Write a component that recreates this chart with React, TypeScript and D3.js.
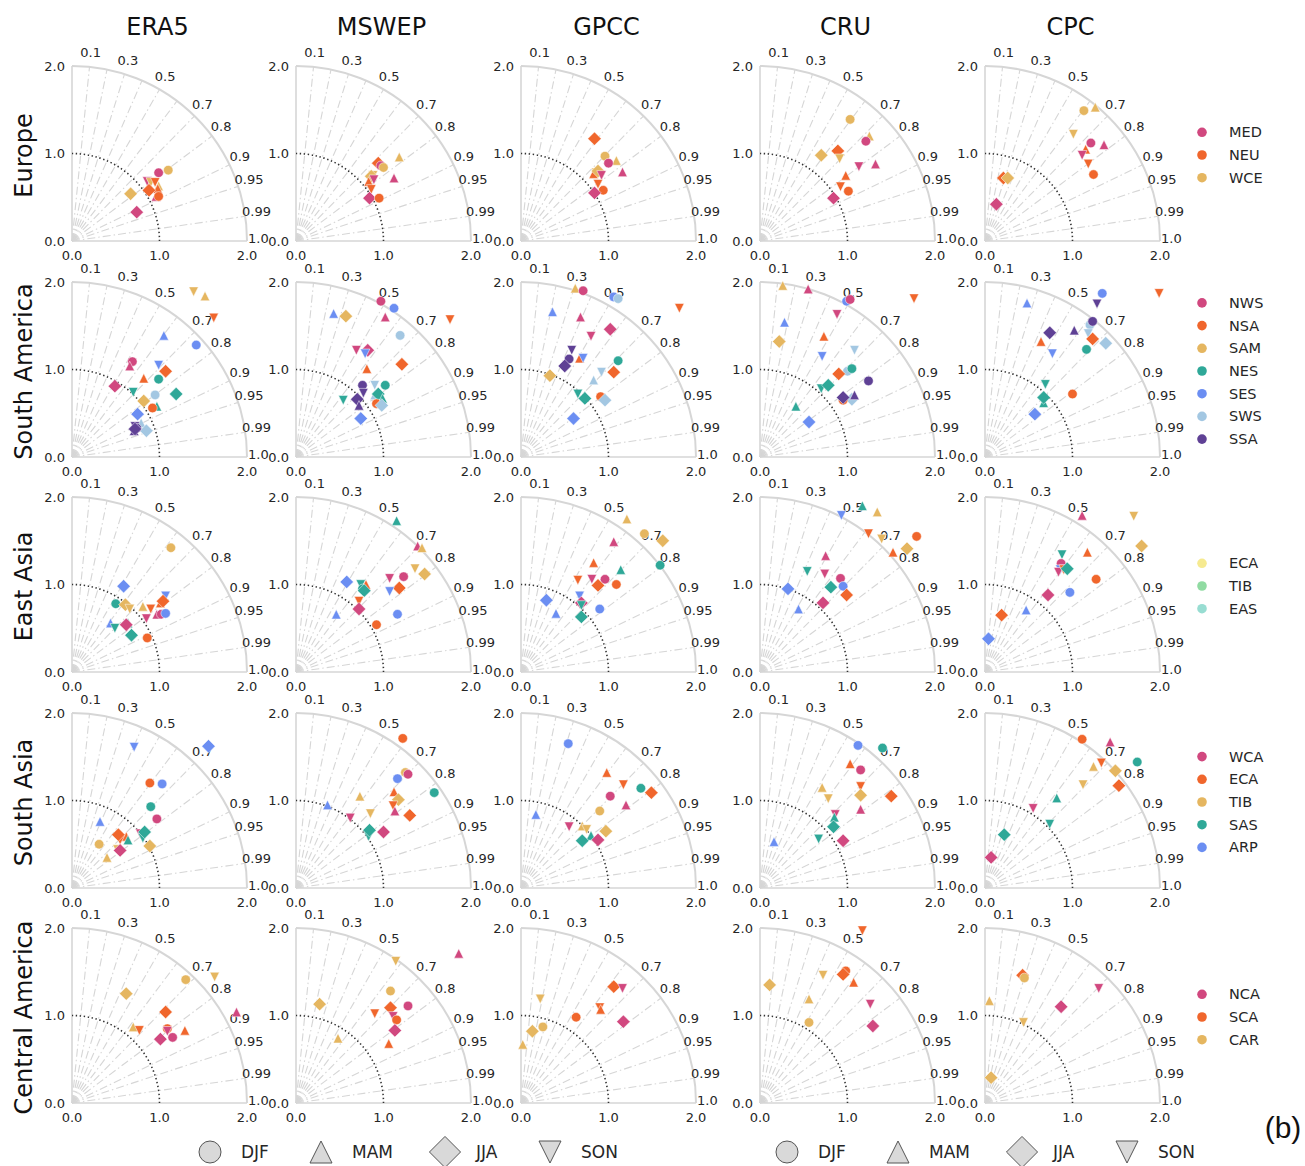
import React from "react";
import * as d3 from "d3";

// Each point: [colour index, season, x component (σ·r), y component (σ·√(1−r²))]
type Pt = [number, string, number, number];

const datasets = ["ERA5", "MSWEP", "GPCC", "CRU", "CPC"];
const domains = ["Europe", "South America", "East Asia", "South Asia", "Central America"];
const seasons = ["DJF", "MAM", "JJA", "SON"];
const corrLabels = [0.1, 0.3, 0.5, 0.7, 0.8, 0.9, 0.95, 0.99, 1.0];
const corrLines = [0.1, 0.2, 0.3, 0.4, 0.5, 0.6, 0.7, 0.8, 0.9, 0.95, 0.99];
const stdTicks = [0, 1, 2];

const markerColors = ["#d1487f", "#f0662c", "#e5b660", "#2fa898", "#6b8ef2", "#a3c7e2", "#5f4195"];

const europeLegend = ["MED", "NEU", "WCE"];
const southAmericaLegend = ["NWS", "NSA", "SAM", "NES", "SES", "SWS", "SSA"];
const eastAsiaLegend = ["ECA", "TIB", "EAS"];
const eastAsiaLegendColors = ["#f6ea90", "#90dba2", "#98ddd2"];
const southAsiaLegend = ["WCA", "ECA", "TIB", "SAS", "ARP"];
const centralAmericaLegend = ["NCA", "SCA", "CAR"];

const europePoints: Pt[][] = [
  [[0,"DJF",0.99,0.78],[2,"DJF",1.10,0.81],[0,"SON",0.86,0.68],[2,"SON",0.90,0.67],[1,"SON",0.95,0.67],[2,"MAM",0.99,0.63],[1,"MAM",0.98,0.60],[1,"JJA",0.88,0.58],[0,"MAM",0.96,0.51],[1,"DJF",0.99,0.51],[2,"JJA",0.67,0.54],[0,"JJA",0.74,0.33]],
  [[1,"JJA",0.94,0.89],[0,"DJF",0.97,0.86],[2,"DJF",1.00,0.84],[2,"MAM",1.18,0.96],[2,"SON",0.88,0.75],[2,"JJA",0.86,0.74],[0,"SON",0.89,0.70],[1,"MAM",0.83,0.68],[0,"MAM",1.12,0.72],[1,"SON",0.86,0.59],[0,"JJA",0.84,0.49],[1,"DJF",0.95,0.49]],
  [[1,"JJA",0.84,1.17],[2,"DJF",0.96,0.97],[2,"MAM",1.09,0.92],[0,"DJF",1.00,0.89],[2,"SON",0.86,0.78],[1,"MAM",0.83,0.77],[2,"JJA",0.88,0.80],[0,"SON",0.92,0.75],[0,"MAM",1.16,0.79],[1,"SON",0.88,0.65],[1,"DJF",0.94,0.58],[0,"JJA",0.84,0.55]],
  [[2,"DJF",1.03,1.39],[2,"MAM",1.25,1.20],[0,"DJF",1.21,1.14],[2,"JJA",0.70,0.98],[1,"JJA",0.89,1.03],[2,"SON",0.91,0.94],[0,"SON",1.13,0.85],[0,"MAM",1.32,0.88],[1,"MAM",0.98,0.75],[1,"SON",0.92,0.62],[1,"DJF",1.01,0.57],[0,"JJA",0.84,0.49]],
  [[2,"DJF",1.13,1.49],[2,"MAM",1.26,1.53],[2,"SON",1.01,1.22],[0,"DJF",1.21,1.12],[0,"MAM",1.36,1.10],[1,"MAM",1.15,1.05],[0,"SON",1.11,0.98],[1,"SON",1.18,0.88],[1,"DJF",1.24,0.76],[1,"JJA",0.21,0.72],[2,"JJA",0.26,0.72],[0,"JJA",0.13,0.42]],
];

const southAmericaPoints: Pt[][] = [
  [[2,"SON",1.39,1.89],[2,"MAM",1.52,1.84],[1,"SON",1.62,1.59],[4,"MAM",1.05,1.39],[4,"DJF",1.42,1.28],[0,"DJF",0.69,1.09],[0,"MAM",0.66,1.04],[4,"SON",0.99,1.05],[1,"JJA",1.07,0.98],[1,"MAM",0.82,0.90],[3,"DJF",0.99,0.89],[0,"JJA",0.49,0.81],[3,"JJA",1.19,0.72],[3,"SON",0.70,0.74],[5,"DJF",0.95,0.71],[2,"JJA",0.82,0.64],[3,"MAM",0.97,0.58],[1,"DJF",0.92,0.56],[4,"JJA",0.75,0.49],[5,"MAM",0.79,0.39],[5,"JJA",0.85,0.30],[6,"SON",0.72,0.35],[6,"DJF",0.74,0.33],[6,"MAM",0.71,0.30],[6,"JJA",0.72,0.32]],
  [[0,"DJF",0.97,1.78],[4,"DJF",1.12,1.70],[4,"MAM",0.43,1.64],[2,"JJA",0.57,1.61],[0,"MAM",1.02,1.60],[1,"SON",1.76,1.57],[5,"DJF",1.19,1.39],[0,"SON",0.69,1.22],[0,"JJA",0.82,1.22],[4,"SON",0.79,1.18],[1,"MAM",0.81,1.01],[1,"JJA",1.21,1.06],[6,"DJF",0.76,0.82],[5,"SON",0.90,0.82],[3,"DJF",1.02,0.82],[6,"SON",0.77,0.73],[5,"MAM",0.90,0.71],[3,"JJA",0.94,0.72],[3,"MAM",0.99,0.67],[3,"SON",0.54,0.65],[6,"JJA",0.70,0.66],[6,"MAM",0.72,0.59],[1,"DJF",0.92,0.61],[5,"JJA",0.98,0.59],[4,"JJA",0.74,0.44]],
  [[2,"MAM",0.62,1.93],[0,"DJF",0.71,1.90],[4,"DJF",1.06,1.83],[5,"DJF",1.11,1.81],[4,"MAM",0.36,1.66],[0,"MAM",0.68,1.60],[1,"SON",1.81,1.70],[0,"JJA",1.02,1.46],[0,"SON",0.80,1.38],[6,"SON",0.58,1.22],[1,"MAM",0.67,1.13],[4,"SON",0.71,1.13],[6,"DJF",0.55,1.12],[6,"JJA",0.50,1.04],[3,"DJF",1.11,1.10],[2,"JJA",0.33,0.93],[5,"SON",0.92,0.97],[1,"JJA",1.06,0.97],[5,"MAM",0.83,0.88],[3,"SON",0.65,0.72],[3,"MAM",0.73,0.70],[3,"JJA",0.73,0.67],[1,"DJF",0.91,0.69],[5,"JJA",0.96,0.65],[4,"JJA",0.60,0.44]],
  [[2,"MAM",0.26,1.96],[0,"MAM",0.55,1.92],[4,"DJF",0.99,1.78],[0,"DJF",1.03,1.80],[1,"SON",1.76,1.81],[4,"MAM",0.28,1.54],[0,"SON",0.88,1.63],[2,"JJA",0.22,1.32],[1,"MAM",0.73,1.38],[5,"SON",1.08,1.22],[4,"SON",0.71,1.15],[5,"DJF",1.00,0.98],[3,"DJF",1.05,1.01],[1,"JJA",0.90,0.95],[6,"DJF",1.24,0.87],[3,"SON",0.70,0.78],[3,"JJA",0.78,0.82],[5,"JJA",1.05,0.66],[1,"DJF",0.95,0.65],[6,"JJA",0.95,0.68],[6,"MAM",1.08,0.71],[3,"MAM",0.41,0.58],[4,"JJA",0.56,0.40]],
  [[4,"MAM",0.48,1.76],[4,"DJF",1.34,1.87],[1,"SON",1.99,1.87],[6,"SON",1.28,1.75],[5,"DJF",1.20,1.51],[6,"DJF",1.23,1.55],[6,"JJA",0.74,1.42],[6,"MAM",1.02,1.45],[5,"SON",1.18,1.41],[1,"MAM",0.64,1.32],[1,"JJA",1.23,1.35],[5,"JJA",1.38,1.30],[4,"SON",0.77,1.18],[3,"DJF",1.16,1.23],[3,"SON",0.69,0.83],[1,"DJF",1.00,0.72],[3,"MAM",0.67,0.62],[3,"JJA",0.67,0.68],[4,"JJA",0.57,0.49]],
];

const eastAsiaPoints: Pt[][] = [
  [[2,"DJF",1.13,1.42],[4,"JJA",0.59,0.98],[4,"SON",1.07,0.87],[1,"MAM",1.01,0.79],[1,"JJA",1.04,0.81],[3,"DJF",0.50,0.78],[2,"JJA",0.61,0.77],[2,"SON",0.66,0.72],[2,"MAM",0.81,0.75],[1,"SON",0.90,0.72],[0,"MAM",0.97,0.66],[0,"DJF",1.02,0.66],[4,"DJF",1.07,0.67],[0,"SON",0.85,0.61],[4,"MAM",0.44,0.56],[3,"SON",0.49,0.50],[3,"MAM",0.64,0.56],[0,"JJA",0.62,0.54],[3,"JJA",0.68,0.42],[1,"DJF",0.86,0.39]],
  [[3,"MAM",1.15,1.73],[0,"MAM",1.39,1.44],[2,"MAM",1.44,1.42],[2,"SON",1.36,1.18],[2,"JJA",1.47,1.12],[0,"DJF",1.23,1.09],[0,"SON",1.07,1.07],[1,"JJA",1.18,0.96],[4,"SON",1.07,0.92],[4,"JJA",0.58,1.03],[3,"SON",0.74,1.00],[1,"MAM",0.80,1.00],[3,"DJF",0.76,0.95],[3,"JJA",0.78,0.93],[1,"SON",0.72,0.81],[0,"JJA",0.72,0.72],[4,"MAM",0.46,0.66],[4,"DJF",1.16,0.66],[1,"DJF",0.92,0.54]],
  [[2,"MAM",1.21,1.75],[2,"DJF",1.41,1.58],[2,"JJA",1.62,1.50],[0,"MAM",1.06,1.49],[3,"DJF",1.59,1.22],[1,"MAM",0.83,1.25],[3,"MAM",1.14,1.17],[1,"SON",0.65,1.05],[0,"SON",0.81,1.06],[0,"DJF",0.96,1.06],[1,"JJA",0.88,0.99],[1,"DJF",1.09,1.00],[4,"JJA",0.29,0.82],[4,"SON",0.67,0.87],[0,"JJA",0.69,0.79],[3,"SON",0.69,0.76],[4,"DJF",0.90,0.72],[4,"MAM",0.40,0.67],[3,"JJA",0.69,0.63]],
  [[3,"MAM",1.17,1.90],[2,"MAM",1.34,1.83],[4,"SON",0.93,1.79],[1,"SON",1.24,1.58],[1,"DJF",1.79,1.55],[2,"SON",1.39,1.52],[2,"JJA",1.68,1.41],[1,"MAM",1.52,1.37],[0,"MAM",0.75,1.33],[3,"SON",0.54,1.15],[0,"SON",0.74,1.12],[0,"DJF",0.92,1.07],[4,"DJF",0.95,0.98],[3,"JJA",0.81,0.97],[1,"JJA",0.99,0.88],[4,"JJA",0.32,0.95],[0,"JJA",0.72,0.79],[4,"MAM",0.44,0.72]],
  [[0,"MAM",1.11,1.79],[2,"SON",1.70,1.78],[2,"JJA",1.79,1.44],[1,"MAM",1.17,1.37],[3,"SON",0.88,1.34],[0,"DJF",0.87,1.24],[4,"SON",0.86,1.17],[0,"SON",0.84,1.14],[1,"SON",0.90,1.17],[3,"JJA",0.94,1.18],[1,"DJF",1.27,1.06],[0,"JJA",0.72,0.88],[4,"DJF",0.97,0.91],[4,"MAM",0.47,0.71],[1,"JJA",0.19,0.65],[4,"JJA",0.04,0.38]],
];

const southAsiaPoints: Pt[][] = [
  [[4,"SON",0.71,1.61],[4,"JJA",1.56,1.62],[1,"DJF",0.89,1.20],[4,"DJF",1.03,1.19],[3,"DJF",0.90,0.93],[0,"DJF",0.97,0.79],[4,"MAM",0.32,0.76],[0,"SON",0.78,0.62],[3,"SON",0.81,0.57],[3,"JJA",0.83,0.64],[1,"MAM",0.62,0.59],[1,"SON",0.55,0.55],[1,"JJA",0.53,0.61],[3,"MAM",0.64,0.55],[2,"DJF",0.31,0.50],[2,"SON",0.52,0.44],[0,"JJA",0.55,0.43],[2,"JJA",0.89,0.48],[2,"MAM",0.40,0.35]],
  [[1,"DJF",1.22,1.71],[2,"DJF",1.25,1.32],[0,"DJF",1.28,1.30],[4,"DJF",1.16,1.25],[3,"DJF",1.58,1.09],[1,"MAM",1.12,1.10],[2,"JJA",1.17,1.01],[2,"MAM",0.73,1.05],[4,"MAM",0.36,0.95],[1,"SON",1.11,0.94],[0,"MAM",1.13,0.88],[2,"SON",0.85,0.85],[1,"JJA",1.30,0.83],[0,"SON",0.62,0.80],[3,"SON",0.83,0.59],[3,"JJA",0.84,0.66],[0,"JJA",1.00,0.64]],
  [[4,"DJF",0.54,1.65],[1,"MAM",0.98,1.32],[1,"SON",1.17,1.18],[3,"DJF",1.37,1.14],[1,"JJA",1.49,1.09],[0,"DJF",1.02,1.05],[0,"MAM",1.20,0.95],[4,"MAM",0.17,0.84],[2,"DJF",0.90,0.88],[0,"SON",0.55,0.70],[2,"MAM",0.70,0.71],[2,"SON",0.75,0.67],[2,"JJA",0.97,0.65],[3,"MAM",0.80,0.60],[3,"JJA",0.70,0.54],[0,"JJA",0.88,0.55]],
  [[4,"DJF",1.12,1.63],[3,"DJF",1.40,1.60],[1,"MAM",1.03,1.42],[0,"DJF",1.15,1.35],[1,"SON",1.15,1.16],[2,"MAM",0.71,1.15],[2,"SON",0.78,1.02],[2,"JJA",1.15,1.06],[1,"JJA",1.50,1.05],[0,"MAM",1.15,0.90],[0,"SON",0.86,0.84],[3,"MAM",0.85,0.81],[3,"JJA",0.84,0.70],[3,"SON",0.67,0.56],[0,"JJA",0.95,0.54],[4,"MAM",0.16,0.53]],
  [[1,"DJF",1.11,1.70],[0,"MAM",1.43,1.67],[3,"DJF",1.74,1.44],[1,"SON",1.33,1.43],[2,"MAM",1.24,1.39],[2,"JJA",1.49,1.34],[2,"SON",1.12,1.18],[1,"JJA",1.53,1.17],[3,"MAM",0.82,1.03],[0,"SON",0.55,0.91],[3,"SON",0.74,0.73],[3,"JJA",0.22,0.61],[0,"JJA",0.07,0.35]],
];

const centralAmericaPoints: Pt[][] = [
  [[2,"SON",1.63,1.44],[2,"DJF",1.30,1.41],[2,"JJA",0.62,1.25],[0,"MAM",1.88,1.04],[1,"JJA",1.07,1.04],[2,"MAM",0.70,0.87],[1,"SON",0.77,0.83],[1,"DJF",1.09,0.85],[0,"SON",1.09,0.82],[1,"MAM",1.29,0.83],[0,"JJA",1.01,0.73],[0,"DJF",1.15,0.75]],
  [[0,"MAM",1.86,1.71],[2,"SON",1.14,1.62],[2,"DJF",1.08,1.28],[2,"JJA",0.27,1.13],[1,"JJA",1.08,1.09],[0,"DJF",1.28,1.11],[1,"SON",0.90,1.02],[0,"SON",1.11,0.99],[1,"DJF",1.15,0.95],[0,"JJA",1.13,0.83],[2,"MAM",0.48,0.74],[1,"MAM",1.06,0.68]],
  [[1,"JJA",1.06,1.33],[0,"SON",1.16,1.31],[2,"SON",0.22,1.19],[1,"SON",0.90,1.09],[1,"MAM",0.91,1.07],[1,"DJF",0.63,0.98],[0,"JJA",1.17,0.93],[2,"DJF",0.25,0.87],[2,"JJA",0.13,0.82],[2,"MAM",0.02,0.67]],
  [[1,"SON",1.17,1.97],[1,"DJF",0.98,1.51],[1,"JJA",0.95,1.47],[1,"MAM",1.07,1.38],[2,"SON",0.72,1.46],[2,"JJA",0.11,1.35],[2,"MAM",0.56,1.19],[0,"SON",1.26,1.13],[2,"DJF",0.56,0.92],[0,"JJA",1.29,0.88]],
  [[1,"JJA",0.43,1.46],[2,"DJF",0.45,1.43],[0,"SON",1.30,1.31],[2,"MAM",0.05,1.17],[0,"JJA",0.87,1.10],[2,"SON",0.44,0.92],[2,"JJA",0.07,0.29]],
];

const rows = [
  { points: europePoints, legend: europeLegend, legendColors: markerColors },
  { points: southAmericaPoints, legend: southAmericaLegend, legendColors: markerColors },
  { points: eastAsiaPoints, legend: eastAsiaLegend, legendColors: eastAsiaLegendColors },
  { points: southAsiaPoints, legend: southAsiaLegend, legendColors: markerColors },
  { points: centralAmericaPoints, legend: centralAmericaLegend, legendColors: markerColors },
];

// panel geometry
const UNIT = 87.5;
const colOrigin = [72, 296, 521, 760, 985];
const rowOrigin = [241, 457, 672, 888, 1103];

const GRID = "#d6d6d6";
const TEXT = "#262626";

// matplotlib-style marker outlines, s = marker box size
function markerPath(season: string, s: number): string {
  const h = s / 2;
  const p = d3.path();
  if (season === "DJF") {
    p.arc(0, 0, h, 0, 2 * Math.PI);
  } else if (season === "MAM") {
    p.moveTo(0, -h); p.lineTo(h, h); p.lineTo(-h, h); p.closePath();
  } else if (season === "SON") {
    p.moveTo(0, h); p.lineTo(h, -h); p.lineTo(-h, -h); p.closePath();
  } else {
    const d = s * 0.7071;
    p.moveTo(0, -d); p.lineTo(d, 0); p.lineTo(0, d); p.lineTo(-d, 0); p.closePath();
  }
  return p.toString();
}

function TaylorPanel({ ox, oy, points }: { ox: number; oy: number; points: Pt[] }) {
  const x = d3.scaleLinear().domain([0, 2]).range([ox, ox + 2 * UNIT]);
  const y = d3.scaleLinear().domain([0, 2]).range([oy, oy - 2 * UNIT]);
  const arcPath = (r: number) =>
    `M${x(r)},${y(0)} A${x(r) - x(0)},${y(0) - y(r)} 0 0 0 ${x(0)},${y(r)}`;
  const polar = (r: number, c: number) => [x(r * c), y(r * Math.sqrt(1 - c * c))];

  return (
    <g>
      {corrLines.map((c) => {
        const [ex, ey] = polar(2, c);
        return (
          <line key={c} x1={x(0)} y1={y(0)} x2={ex} y2={ey}
            stroke={GRID} strokeWidth={1.1} strokeDasharray="8,3,1.5,3" />
        );
      })}
      <path d={arcPath(2)} fill="none" stroke={GRID} strokeWidth={2} />
      <line x1={x(0)} y1={y(0)} x2={x(0)} y2={y(2)} stroke={GRID} strokeWidth={1.6} />
      <line x1={x(0)} y1={y(0)} x2={x(2)} y2={y(0)} stroke={GRID} strokeWidth={1.6} />
      <path d={arcPath(1)} fill="none" stroke="#333" strokeWidth={1.6} strokeDasharray="1.4,2.6" />
      {corrLabels.map((c) => {
        const [tx, ty] = polar(2.13, c);
        return (
          <text key={c} x={tx} y={ty - 3} fontSize={13} fill={TEXT}
            textAnchor="middle" dominantBaseline="central">{c.toFixed(c === 0.95 || c === 0.99 ? 2 : 1)}</text>
        );
      })}
      {stdTicks.map((v) => (
        <text key={"y" + v} x={x(0) - 7} y={y(v)} fontSize={13} fill={TEXT}
          textAnchor="end" dominantBaseline="central">{v.toFixed(1)}</text>
      ))}
      {stdTicks.map((v) => (
        <text key={"x" + v} x={x(v)} y={y(0) + 14} fontSize={13} fill={TEXT}
          textAnchor="middle" dominantBaseline="central">{v.toFixed(1)}</text>
      ))}
      {points.map(([ci, season, px, py], i) => (
        <path key={i} d={markerPath(season, 9.5)}
          transform={`translate(${x(px)},${y(py)})`}
          fill={markerColors[ci]} stroke="#fff" strokeWidth={0.5} />
      ))}
    </g>
  );
}

function SeasonLegend({ x0 }: { x0: number }) {
  const offsets = [0, 111, 235, 340];
  return (
    <g>
      {seasons.map((s, i) => (
        <g key={s}>
          <path d={markerPath(s, 22)} transform={`translate(${x0 + offsets[i]},1152)`}
            fill="#d9d9d9" stroke="#555" strokeWidth={1} />
          <text x={x0 + offsets[i] + 31} y={1152} fontSize={17} fill={TEXT}
            dominantBaseline="central">{s}</text>
        </g>
      ))}
    </g>
  );
}

export default function App() {
  return (
    <svg width={1305} height={1166} viewBox="0 0 1305 1166"
      style={{ position: "absolute", left: 0, top: 0, background: "#fff" }}
      fontFamily="'DejaVu Sans', sans-serif">
      <rect width={1305} height={1166} fill="#fff" />
      {datasets.map((d, j) => (
        <text key={d} x={colOrigin[j] + UNIT - 2} y={27} fontSize={24} fill="#111"
          textAnchor="middle" dominantBaseline="central">{d}</text>
      ))}
      {domains.map((name, i) => (
        <text key={name} transform={`translate(24,${rowOrigin[i] - UNIT + 2}) rotate(-90)`}
          fontSize={24} fill="#111" textAnchor="middle" dominantBaseline="central">{name}</text>
      ))}
      {rows.map((row, i) =>
        row.points.map((pts, j) => (
          <TaylorPanel key={`${i}-${j}`} ox={colOrigin[j]} oy={rowOrigin[i]} points={pts} />
        ))
      )}
      {rows.map((row, i) => {
        const mid = rowOrigin[i] - UNIT + 1.5;
        const step = 22.7;
        const top = mid - ((row.legend.length - 1) * step) / 2;
        return (
          <g key={"lg" + i}>
            {row.legend.map((name, k) => (
              <g key={name}>
                <circle cx={1202} cy={top + k * step} r={4.8} fill={row.legendColors[k]} />
                <text x={1229} y={top + k * step} fontSize={14.5} fill={TEXT}
                  dominantBaseline="central">{name}</text>
              </g>
            ))}
          </g>
        );
      })}
      <SeasonLegend x0={210} />
      <SeasonLegend x0={787} />
      <text x={1283} y={1138} fontSize={30} fill="#111" textAnchor="middle"
        fontFamily="'Liberation Sans', sans-serif">(b)</text>
    </svg>
  );
}
